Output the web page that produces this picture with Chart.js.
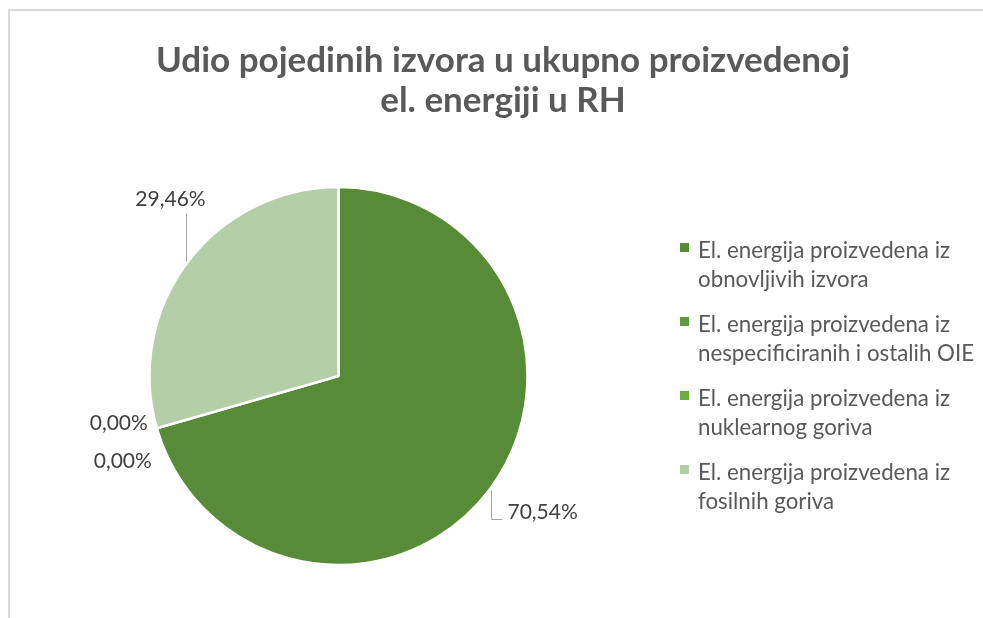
<!DOCTYPE html>
<html>
<head>
<meta charset="utf-8">
<script src="https://cdn.jsdelivr.net/npm/chart.js@4"></script>
<style>
    html, body { margin: 0; padding: 0; background: #fff; overflow: hidden; }
    #okvir {
        position: absolute; left: 8px; top: 9px; width: 1100px; height: 800px;
        border-left: 2px solid #d9d9d9; border-top: 2px solid #d9d9d9;
    }
    #wrap { position: absolute; left: 0; top: 0; width: 983px; height: 618px; }
</style>
</head>
<body>
<div id="okvir"></div>
<div id="wrap"><canvas id="pieChart" width="983" height="618"></canvas></div>
<script>
// podaci
const naslov = ['Udio pojedinih izvora u ukupno proizvedenoj', 'el. energiji u RH'];
const izvori = [
    ['El. energija proizvedena iz', 'obnovljivih izvora'],
    ['El. energija proizvedena iz', 'nespecificiranih i ostalih OIE'],
    ['El. energija proizvedena iz', 'nuklearnog goriva'],
    ['El. energija proizvedena iz', 'fosilnih goriva']
];
const udjeli = [70.54, 0.00, 0.00, 29.46];
const boje = ['#578B37', '#5F9B3D', '#6AAB46', '#B4CEA8'];

const FONT = 'Lato, "Open Sans", sans-serif';

// položaj oznaka u odnosu na rub isječka (sredina luka)
const oznake = [
    { dx: 18, dy: 23, align: 'left', linija: [[2, 0], [2, 29], [13, 29]] },
    { dx: -9, dy: -5, align: 'right', linija: null },
    { dx: -5, dy: 33, align: 'right', linija: null },
    { dx: -17, dy: -63, align: 'center', linija: [[-2, -1], [-2, -49]] }
];

const postotak = v => v.toFixed(2).replace('.', ',') + '%';

const ukrasi = {
    id: 'ukrasi',
    afterDraw(chart) {
        const ctx = chart.ctx;
        ctx.save();

        // naslov
        ctx.fillStyle = '#595959';
        ctx.font = 'bold 35px ' + FONT;
        ctx.textAlign = 'center';
        ctx.textBaseline = 'alphabetic';
        naslov.forEach((red, i) => ctx.fillText(red, 503, 72 + i * 40));

        // legenda
        ctx.font = '22.3px ' + FONT;
        ctx.textAlign = 'left';
        izvori.forEach((redovi, i) => {
            const y = 258 + i * 74;
            ctx.fillStyle = boje[i];
            ctx.fillRect(680, y - 15, 9, 9);
            ctx.fillStyle = '#595959';
            redovi.forEach((red, j) => ctx.fillText(red, 698, y + j * 29));
        });

        // oznake podataka
        const meta = chart.getDatasetMeta(0);
        ctx.font = '21px ' + FONT;
        ctx.textBaseline = 'middle';
        meta.data.forEach((arc, i) => {
            const p = arc.getProps(['x', 'y', 'startAngle', 'endAngle', 'outerRadius'], true);
            const kut = (p.startAngle + p.endAngle) / 2;
            const ax = p.x + Math.cos(kut) * p.outerRadius;
            const ay = p.y + Math.sin(kut) * p.outerRadius;
            const o = oznake[i];
            if (o.linija) {
                ctx.strokeStyle = '#a6a6a6';
                ctx.lineWidth = 1;
                ctx.beginPath();
                o.linija.forEach(([lx, ly], k) => {
                    const x = Math.round(ax + lx) + 0.5, y = Math.round(ay + ly) + 0.5;
                    k === 0 ? ctx.moveTo(x, y) : ctx.lineTo(x, y);
                });
                ctx.stroke();
            }
            ctx.fillStyle = '#404040';
            ctx.textAlign = o.align;
            ctx.fillText(postotak(chart.data.datasets[0].data[i]), ax + o.dx, ay + o.dy);
        });

        ctx.restore();
    }
};

new Chart(document.getElementById('pieChart'), {
    type: 'pie',
    data: {
        labels: izvori,
        datasets: [{
            data: udjeli,
            backgroundColor: boje,
            borderColor: '#ffffff',
            borderWidth: 2.5
        }]
    },
    options: {
        responsive: false,
        animation: false,
        radius: 189,
        layout: { padding: { left: 149, right: 455, top: 187, bottom: 53 } },
        plugins: {
            legend: { display: false },
            title: { display: false },
            tooltip: { enabled: false }
        }
    },
    plugins: [ukrasi]
});
</script>
</body>
</html>
